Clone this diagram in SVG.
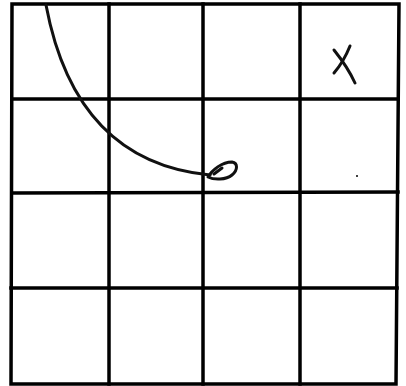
<svg xmlns="http://www.w3.org/2000/svg" width="406" height="386" viewBox="0 0 406 386">
<style>
.g{stroke:#000;stroke-width:3.5;fill:none;stroke-linecap:square}
.p{stroke:#111;stroke-width:3;fill:none;stroke-linecap:round;stroke-linejoin:round}
</style>
<rect width="406" height="386" fill="#fff"/>
<g id="grid" class="g">
<path d="M12,4 L399,4 L396,384 L11,384 Z"/>
<line x1="109" y1="4" x2="109" y2="384"/>
<line x1="203" y1="4" x2="203" y2="384"/>
<line x1="300" y1="4" x2="300" y2="384"/>
<line x1="12" y1="99" x2="398" y2="99"/>
<line x1="12" y1="193" x2="398" y2="192"/>
<line x1="11" y1="288" x2="397" y2="288"/>
</g>
<g id="curve" class="p">
<path d="M46,5 C62,90 105,165 210,175"/>
<path d="M208,177 C212,170 222,162 232,162 C238,163 238,170 232,175 C226,180 214,180 208,177 Z"/>
<path d="M214,174 L222,168"/>
</g>
<g id="mark" class="p">
<path d="M334,50 C342,60 350,72 355,83"/>
<path d="M350,46 C346,56 340,66 334,73"/>
</g>
<circle cx="357" cy="176" r="1" fill="#000"/>
</svg>
